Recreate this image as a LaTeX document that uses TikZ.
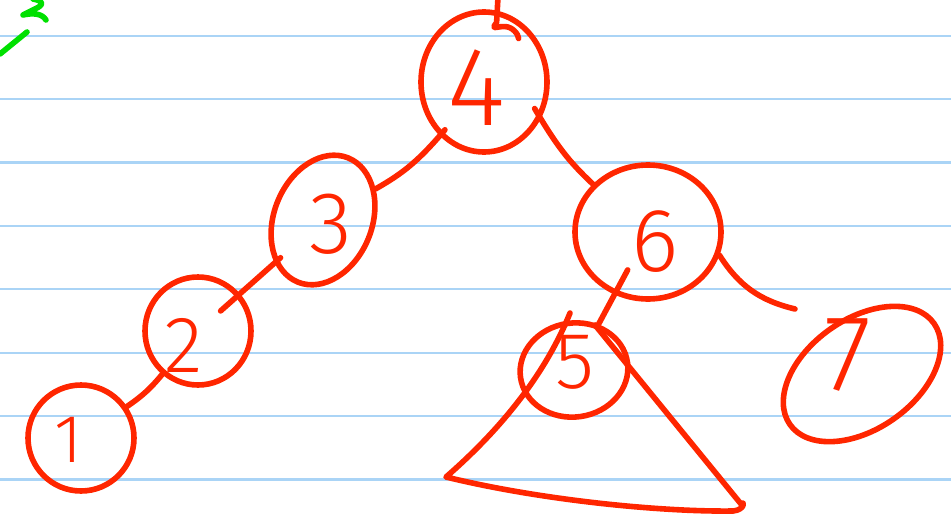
\documentclass[tikz,border=0pt]{standalone}
\usepackage{fontspec}
\setmainfont{Fira Sans Light}
\usetikzlibrary{shapes.geometric}
\definecolor{ink}{HTML}{FF2600}
\definecolor{ruling}{HTML}{AAD4F6}
\definecolor{marker}{HTML}{00E000}

\begin{document}
\begin{tikzpicture}[
    x=1pt, y=-1pt,
    pen/.style={draw=ink, line width=5.6pt, line cap=round, line join=round},
    vertex/.style={ellipse, pen, inner sep=0pt},
    digit/.style={text=ink, inner sep=0pt, font=\fontsize{#1}{#1}\selectfont},
    edge/.style={pen}
]
\useasboundingbox (0,0) rectangle (951,522);

% ruled paper
\foreach \y in {35.7,99.1,...,480}
    \draw[ruling, line width=2.2pt] (0,\y) -- (951,\y);

% green scribble in the corner
\draw[draw=marker, line width=5.6pt, line cap=round, line join=round]
    (0,54) -- (27,32);
\draw[draw=marker, line width=5.6pt, line cap=round, line join=round]
    (33,-1) .. controls (44,1) and (44,5) .. (35,9) -- (23,15)
    .. controls (32,13) and (42,13) .. (46,20);

% tree nodes
\node[vertex, minimum width=126pt, minimum height=140pt] (n4) at (484,82) {};
\node[vertex, minimum width=98pt, minimum height=134pt, rotate=-22] (n3) at (323,220) {};
\node[vertex, minimum width=106pt, minimum height=108pt] (n2) at (198,331) {};
\node[vertex, minimum width=106pt, minimum height=106pt] (n1) at (81,438) {};
\node[vertex, minimum width=146pt, minimum height=134pt] (n6) at (648,232) {};
\node[vertex, minimum width=108pt, minimum height=94pt, rotate=8] (n5) at (574,370) {};
\node[vertex, minimum width=176pt, minimum height=110pt, rotate=35] (n7) at (862,374) {};

% labels
\node[digit=112] (t4) at (477,88) {4};
\node[digit=88] (t3) at (331,224) {3};
\node[digit=80] (t2) at (184,345) {2};
\node[digit=68] (t1) at (69,440) {1};
\node[digit=90] (t6) at (655,242) {6};
\node[digit=80] (t5) at (575,362) {5};
\node[digit=108] (t7) at (848,355) {7};

% edges
\coordinate (up) at (498,-3);
\draw[edge] (up) -- ([yshift=-12pt]n4.80)
    .. controls +(-6,8) and +(-10,0) .. ++(8,4)
    .. controls +(8,0) and +(0,-4) .. ++(14,12);
\draw[edge, shorten <=-8pt] (n4) to[bend left=10] (n3);
\draw[edge, shorten <=-12pt] (n4.-33) to[bend right=8] (n6.139);
\draw[edge, shorten <=-8pt, shorten >=-26pt] (n3) -- (n2);
\draw[edge] (n2) to[bend left=8] (n1);
\draw[edge, shorten <=-28pt] (n6) -- (n5);
\coordinate (e7) at (795,309);
\draw[edge] (n6.-18) to[bend right=22] (e7);

% subtree below 5
\coordinate (tl) at (446,477);
\coordinate (tr) at (741,504);
\draw[pen] (570,313) .. controls (545,375) and (500,430) .. (tl)
    .. controls (540,500) and (660,512) .. (733,511)
    .. controls (745,510) and (745,500) .. (tr)
    -- (595,325);
\end{tikzpicture}
\end{document}
